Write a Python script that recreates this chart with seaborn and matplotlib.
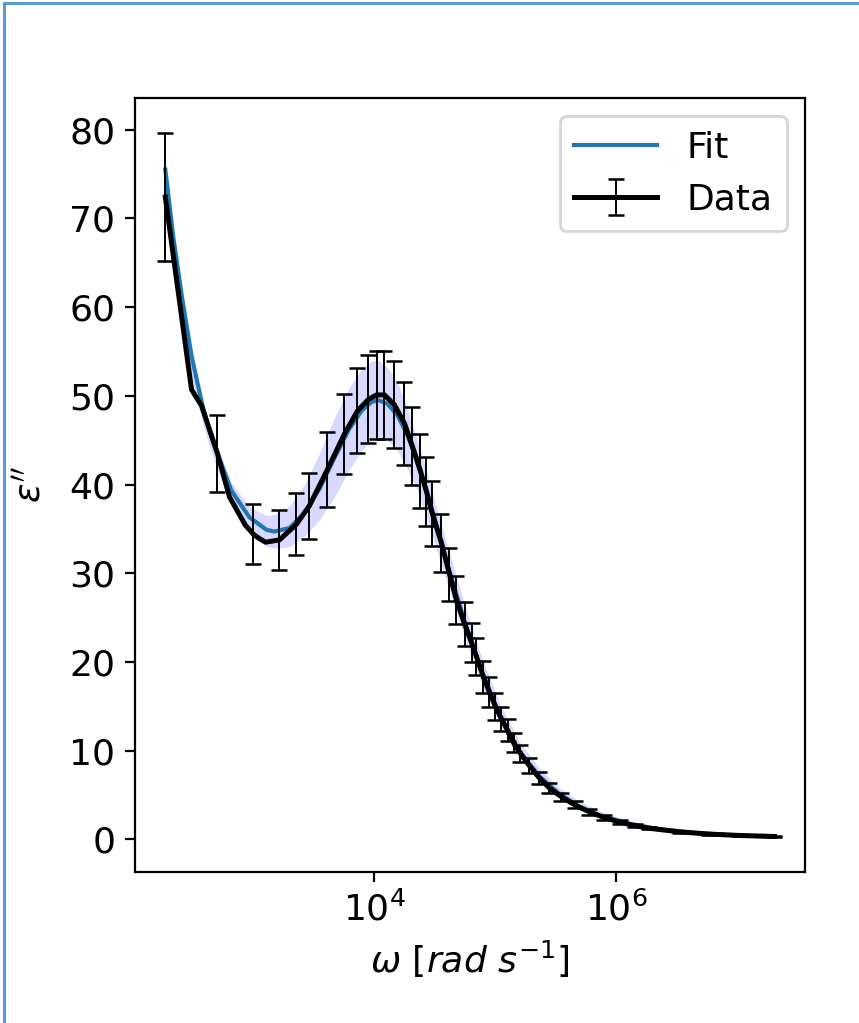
import numpy as np
import matplotlib
matplotlib.use("Agg")
import matplotlib.pyplot as plt
from matplotlib.lines import Line2D
from matplotlib.ticker import NullLocator
import seaborn as sns

# Measured data (omega in rad/s), eps'' and its error bars (nan = no bar drawn)
w_data = [1.87e2, 3.08e2, 3.72e2, 5.04e2, 6.34e2, 8.59e2, 1.00e3, 1.12e3, 1.26e3,
          1.64e3, 2.26e3, 2.90e3, 4.09e3, 5.65e3, 7.24e3, 8.92e3, 1.04e4, 1.21e4,
          1.46e4, 1.77e4, 2.06e4, 2.40e4, 2.69e4, 3.01e4, 3.58e4, 4.17e4, 4.76e4,
          5.55e4, 6.34e4, 6.97e4, 7.96e4, 8.91e4, 1.00e5, 1.12e5, 1.26e5, 1.41e5,
          1.61e5, 1.91e5, 2.31e5, 2.79e5, 3.51e5, 4.50e5, 5.98e5, 7.96e5, 1.06e6,
          1.41e6, 1.87e6, 3.32e6, 5.87e6, 1.04e7, 2.02e7]
eps_data = [72.4, 50.7, 48.9, 43.5, 38.6, 35.4, 34.4, 33.9, 33.5,
            33.75, 35.5, 37.6, 41.7, 45.7, 48.3, 49.6, 50.1, 50.1,
            49.0, 46.9, 44.3, 41.5, 39.2, 36.7, 33.4, 29.9, 27.0,
            24.3, 22.2, 20.6, 18.3, 16.6, 15.0, 13.6, 12.3, 10.9,
            9.7, 8.3, 6.9, 5.8, 4.8, 3.9, 3.1, 2.45, 1.95,
            1.55, 1.25, 0.85, 0.6, 0.44, 0.33]
eps_err = [7.2, np.nan, np.nan, 4.35, np.nan, np.nan, 3.4, np.nan, np.nan,
           3.35, 3.5, 3.75, 4.2, 4.55, 4.8, 4.95, 5.0, 5.0,
           4.9, 4.7, 4.4, 4.15, 3.9, 3.65, 3.3, 3.0, 2.7,
           2.45, 2.2, 2.05, 1.85, 1.65, 1.5, 1.35, 1.25, 1.1,
           0.97, 0.83, 0.7, 0.58, 0.48, 0.39, 0.31, 0.25, 0.2,
           0.16, 0.13, 0.09, 0.06, 0.04, 0.03]

# Fit curve and its uncertainty band
w_fit = [1.87e2, 2.18e2, 2.59e2, 3.08e2, 3.79e2, 4.33e2, 4.94e2, 6.58e2, 9.27e2,
         1.28e3, 1.49e3, 1.99e3, 2.64e3, 3.51e3, 4.67e3, 6.21e3, 7.82e3, 9.44e3,
         1.08e4, 1.28e4, 1.55e4, 1.87e4, 2.26e4, 2.74e4, 3.32e4, 4.17e4, 5.55e4,
         7.38e4, 1.08e5, 1.58e5, 2.31e5, 3.38e5, 4.94e5, 7.24e5, 1.28e6, 2.26e6,
         4.85e6, 1.04e7, 2.02e7]
eps_fit = [75.5, 67.8, 60.8, 54.5, 48.9, 46.1, 43.8, 39.3, 36.3,
           34.9, 34.7, 35.1, 36.8, 39.5, 43.0, 46.3, 48.3, 49.3,
           49.5, 49.1, 47.8, 45.6, 42.6, 39.0, 35.0, 30.2, 24.6,
           19.6, 14.0, 9.9, 7.1, 5.1, 3.7, 2.7, 1.75, 1.15,
           0.68, 0.44, 0.32]
fit_lo = [72.0, 64.6, 58.0, 52.2, 47.0, 44.3, 42.0, 37.6, 34.5,
          33.0, 32.8, 33.0, 34.2, 36.0, 38.6, 41.7, 43.8, 45.0,
          45.3, 45.0, 43.8, 41.8, 39.3, 36.0, 32.3, 28.0, 22.8,
          18.2, 13.0, 9.2, 6.6, 4.7, 3.4, 2.5, 1.6, 1.05,
          0.62, 0.40, 0.29]
fit_hi = [76.0, 68.4, 61.5, 55.2, 49.6, 46.9, 44.6, 40.2, 37.5,
          36.5, 36.6, 37.6, 40.0, 43.5, 47.5, 51.0, 53.0, 53.9,
          54.0, 53.2, 51.5, 48.6, 45.0, 41.2, 37.0, 32.3, 26.5,
          21.2, 15.4, 11.0, 8.0, 5.8, 4.3, 3.2, 2.1, 1.4,
          0.85, 0.55, 0.38]

plt.rcParams.update({"font.size": 13, "font.family": "DejaVu Sans"})

fig = plt.figure(figsize=(8.59 / 2, 10.23 / 2), dpi=200)
ax = fig.add_axes([0.157, 0.1476, 0.78, 0.7566])

ax.fill_between(w_fit, fit_lo, fit_hi, color="blue", alpha=0.15, linewidth=0)
sns.lineplot(x=w_fit, y=eps_fit, ax=ax, color="#1f77b4", linewidth=1.5, label="Fit")
ax.errorbar(w_data, eps_data, yerr=eps_err, color="black", linewidth=1.8,
            elinewidth=0.7, capsize=3, capthick=0.9, label="Data")

ax.set_xscale("log")
ax.set_xticks([1e4, 1e6])
ax.xaxis.set_minor_locator(NullLocator())
ax.set_xlabel(r"$\omega\ [rad\ s^{-1}]$")
ax.set_ylabel(r"$\varepsilon''$", labelpad=8)
ax.legend(loc="upper right", handlelength=2.3)

# blue frame of the screenshot
fc = "#5b9bd5"
fig.add_artist(Line2D([4 / 859, 4 / 859], [0, 1 - 3 / 1023], color=fc, lw=1.1,
                      transform=fig.transFigure))
fig.add_artist(Line2D([4 / 859, 1], [1 - 3 / 1023, 1 - 3 / 1023], color=fc, lw=1.1,
                      transform=fig.transFigure))

fig.savefig("out.png", dpi=200)
